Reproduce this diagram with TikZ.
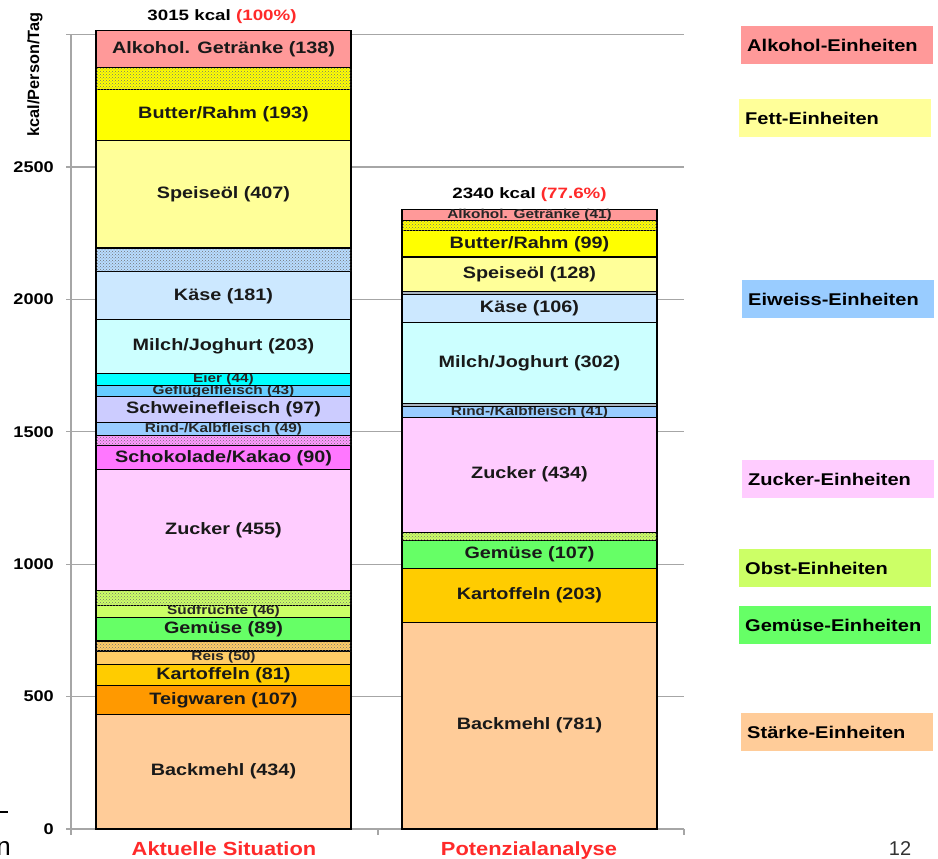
\documentclass[tikz,border=0pt]{standalone}
\usepackage{fontspec}
\setmainfont{Liberation Sans}
\usetikzlibrary{patterns}
\definecolor{cAlk}{HTML}{FF9999}
\definecolor{cButter}{HTML}{FFFF00}
\definecolor{cOel}{HTML}{FFFF99}
\definecolor{cKaese}{HTML}{CCE8FF}
\definecolor{cKaeseDot}{HTML}{B8DCFF}
\definecolor{cMilch}{HTML}{CCFFFF}
\definecolor{cEier}{HTML}{00FFFF}
\definecolor{cGefl}{HTML}{66CCFF}
\definecolor{cSchwein}{HTML}{CCCCFF}
\definecolor{cRind}{HTML}{99CCFF}
\definecolor{cSchoko}{HTML}{FF77FF}
\definecolor{cSchokoDot}{HTML}{FF99FF}
\definecolor{cZucker}{HTML}{FFCCFF}
\definecolor{cObst}{HTML}{CCFF66}
\definecolor{cGemuese}{HTML}{66FF66}
\definecolor{cReis}{HTML}{FFCC66}
\definecolor{cKartoffel}{HTML}{FFCC00}
\definecolor{cTeig}{HTML}{FF9900}
\definecolor{cMehl}{HTML}{FFCC99}
\definecolor{cGrid}{HTML}{A6A6A6}
\definecolor{cRed}{HTML}{FF2A2A}
\definecolor{cThin}{HTML}{A9B4C0}
\definecolor{cLegEi}{HTML}{99CCFF}
\newcommand{\barseg}[7]{%
  \draw[segbox, fill=#5] (#2,#3) rectangle (#2+255,#4);
  \node[#6] (#1) at (#2+127.5,{(#3+#4)/2}) {\scalebox{1.2}[1]{#7}};}
\newcommand{\dotseg}[4]{%
  \draw[segbox, fill=#4, dotfill] (#1,#2) rectangle (#1+255,#3);}
\newcommand{\thinseg}[3]{%
  \draw[segbox, fill=cThin] (#1,#2) rectangle (#1+255,#3);}
\tikzset{
  segbox/.style={draw=black, line width=1.1pt},
  dotfill/.style={postaction={pattern=crosshatch dots, pattern color=black!55}},
  big/.style={inner sep=0pt, font=\fontsize{16.5}{18}\selectfont\bfseries, text=black!90},
  small/.style={inner sep=0pt, font=\fontsize{12.8}{14}\selectfont\bfseries, text=black!85},
  gridline/.style={draw=cGrid, line width=1.2pt},
  ticklab/.style={inner sep=0pt, font=\fontsize{15.5}{17}\selectfont\bfseries},
  hdr/.style={inner sep=0pt, font=\fontsize{15}{17}\selectfont\bfseries},
  cat/.style={inner sep=0pt, font=\fontsize{19}{21}\selectfont\bfseries, text=cRed},
  leg/.style={anchor=north west, inner xsep=6pt, inner ysep=0pt, text width=180pt,
    minimum height=38pt, align=left, font=\fontsize{17}{19}\selectfont\bfseries}
}
\begin{document}
\begin{tikzpicture}[x=1pt, y=1pt]
\useasboundingbox (0,0) rectangle (938,859);
\fill[white] (0,0) rectangle (938,859);
\begin{scope}[shift={(0,30)}, y=0.2648pt]
  % grid and axis
  \foreach \v in {0,500,...,3000} \draw[gridline] (66,\v) -- (684,\v);
  \draw[gridline] (71,3000) -- (71,-22.7);
  \draw[gridline] (378,0) -- (378,-22.7);
  \draw[gridline] (684,0) -- (684,-22.7);
  \foreach \v in {0,500,...,2500} \node[ticklab, anchor=east] (t\v) at (54,\v) {\scalebox{1.17}[1]{\v}};
  % bar 1
  \barseg{aMehl}{96}{0}{434}{cMehl}{big}{Backmehl (434)}
  \barseg{aTeig}{96}{434}{541}{cTeig}{big}{Teigwaren (107)}
  \barseg{aKart}{96}{541}{622}{cKartoffel}{big}{Kartoffeln (81)}
  \barseg{aReis}{96}{622}{672}{cReis}{small}{Reis (50)}
  \dotseg{96}{672}{710}{cReis}
  \barseg{aGem}{96}{710}{799}{cGemuese}{big}{Gemüse (89)}
  \barseg{aSued}{96}{799}{845}{cObst}{small}{Südfrüchte (46)}
  \dotseg{96}{845}{902}{cObst}
  \barseg{aZuck}{96}{902}{1357}{cZucker}{big}{Zucker (455)}
  \barseg{aScho}{96}{1357}{1447}{cSchoko}{big}{Schokolade/Kakao (90)}
  \dotseg{96}{1447}{1487}{cSchokoDot}
  \barseg{aRind}{96}{1487}{1536}{cRind}{small}{Rind-/Kalbfleisch (49)}
  \barseg{aSchw}{96}{1536}{1633}{cSchwein}{big}{Schweinefleisch (97)}
  \barseg{aGefl}{96}{1633}{1676}{cGefl}{small}{Geflügelfleisch (43)}
  \barseg{aEier}{96}{1676}{1720}{cEier}{small}{Eier (44)}
  \barseg{aMilch}{96}{1720}{1923}{cMilch}{big}{Milch/Joghurt (203)}
  \barseg{aKaese}{96}{1923}{2104}{cKaese}{big}{Käse (181)}
  \dotseg{96}{2104}{2194}{cKaeseDot}
  \barseg{aOel}{96}{2194}{2601}{cOel}{big}{Speiseöl (407)}
  \barseg{aButter}{96}{2601}{2794}{cButter}{big}{Butter/Rahm (193)}
  \dotseg{96}{2794}{2877}{cButter}
  \barseg{aAlk}{96}{2877}{3015}{cAlk}{big}{Alkohol. Getränke (138)}
  % bar 2
  \barseg{bMehl}{402}{0}{781}{cMehl}{big}{Backmehl (781)}
  \barseg{bKart}{402}{781}{984}{cKartoffel}{big}{Kartoffeln (203)}
  \barseg{bGem}{402}{984}{1091}{cGemuese}{big}{Gemüse (107)}
  \dotseg{402}{1091}{1121}{cObst}
  \barseg{bZuck}{402}{1121}{1555}{cZucker}{big}{Zucker (434)}
  \barseg{bRind}{402}{1555}{1596}{cRind}{small}{Rind-/Kalbfleisch (41)}
  \thinseg{402}{1596}{1608}
  \barseg{bMilch}{402}{1608}{1912}{cMilch}{big}{Milch/Joghurt (302)}
  \barseg{bKaese}{402}{1912}{2018}{cKaese}{big}{Käse (106)}
  \thinseg{402}{2018}{2030}
  \barseg{bOel}{402}{2030}{2160}{cOel}{big}{Speiseöl (128)}
  \barseg{bButter}{402}{2160}{2259}{cButter}{big}{Butter/Rahm (99)}
  \dotseg{402}{2259}{2299}{cButter}
  \barseg{bAlk}{402}{2299}{2340}{cAlk}{small}{Alkohol. Getränke (41)}
\end{scope}
% headers
\node[hdr] (h1) at (222,842) {\scalebox{1.25}[1]{3015 kcal \textcolor{cRed}{(100\%)}}};
\node[hdr] (h2) at (529.5,664) {\scalebox{1.25}[1]{2340 kcal \textcolor{cRed}{(77.6\%)}}};
% y title
\node[rotate=90, inner sep=0pt, font=\fontsize{16.3}{18}\selectfont\bfseries] (ytitle) at (35,784.5) {kcal/Person/Tag};
% categories
\node[cat, anchor=base] (c1) at (224,3) {\scalebox{1.15}[1]{Aktuelle Situation}};
\node[cat, anchor=base] (c2) at (529,3) {\scalebox{1.15}[1]{Potenzialanalyse}};
% legend
\node[leg, fill=cAlk] (lAlk) at (741,833) {\scalebox{1.18}[1]{Alkohol-Einheiten}};
\node[leg, fill=cOel] (lFett) at (739,760) {\scalebox{1.18}[1]{Fett-Einheiten}};
\node[leg, fill=cLegEi] (lEi) at (742,579) {\scalebox{1.18}[1]{Eiweiss-Einheiten}};
\node[leg, fill=cZucker] (lZuck) at (742,399) {\scalebox{1.18}[1]{Zucker-Einheiten}};
\node[leg, fill=cObst] (lObst) at (739,310) {\scalebox{1.18}[1]{Obst-Einheiten}};
\node[leg, fill=cGemuese] (lGem) at (739,253) {\scalebox{1.18}[1]{Gemüse-Einheiten}};
\node[leg, fill=cMehl] (lStaerke) at (741,146) {\scalebox{1.18}[1]{Stärke-Einheiten}};
% slide fragments
\node[anchor=base, inner sep=0pt, font=\fontsize{20}{22}\selectfont, text=black!80] (pageno) at (900,3) {12};
\node[anchor=base east, inner sep=0pt, font=\fontsize{26}{28}\selectfont] (nfrag) at (11,3) {n};
\coordinate (fragA) at (0,47);
\coordinate (fragB) at (8,47);
\draw[line width=1.5pt] (fragA) -- (fragB);
\end{tikzpicture}
\end{document}
